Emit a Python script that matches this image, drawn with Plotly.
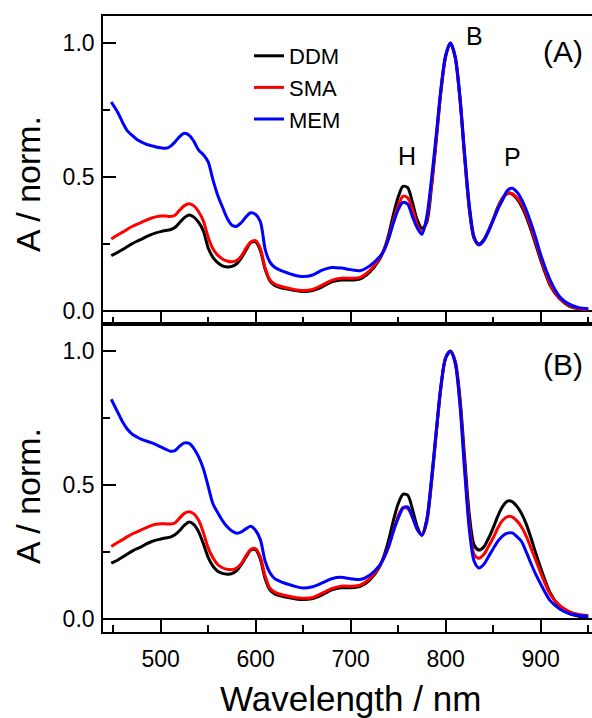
import plotly.graph_objects as go

WAVELENGTH = [448, 455, 460, 465, 470, 475, 480, 485, 490, 495,
              500, 505, 510, 515, 520, 525, 530, 535, 540, 545,
              550, 555, 560, 565, 570, 575, 580, 585, 590, 595,
              600, 605, 610, 615, 620, 625, 630, 640, 650, 660,
              670, 680, 690, 700, 710, 720, 730, 735, 740, 745,
              750, 755, 760, 765, 770, 775, 780, 785, 790, 795,
              800, 805, 810, 815, 820, 825, 830, 835, 840, 845,
              850, 855, 860, 865, 870, 875, 880, 885, 890, 895,
              900, 910, 920, 930, 940, 950]

# Panel (A)
DDM_A = [0.206, 0.219, 0.229, 0.240, 0.251, 0.260, 0.268, 0.277, 0.285, 0.291,
         0.296, 0.300, 0.303, 0.311, 0.330, 0.348, 0.358, 0.350, 0.330, 0.298,
         0.235, 0.200, 0.180, 0.168, 0.164, 0.166, 0.176, 0.198, 0.228, 0.255,
         0.258, 0.225, 0.155, 0.112, 0.095, 0.088, 0.083, 0.077, 0.072, 0.076,
         0.090, 0.108, 0.115, 0.115, 0.120, 0.145, 0.190, 0.228, 0.285, 0.360,
         0.425, 0.465, 0.460, 0.405, 0.340, 0.308, 0.330, 0.460, 0.635, 0.820,
         0.950, 1.000, 0.945, 0.790, 0.570, 0.375, 0.270, 0.250, 0.265, 0.300,
         0.342, 0.388, 0.422, 0.440, 0.436, 0.418, 0.390, 0.350, 0.300, 0.245,
         0.190, 0.095, 0.045, 0.018, 0.008, 0.005]
SMA_A = [0.268, 0.284, 0.294, 0.305, 0.315, 0.323, 0.331, 0.339, 0.346, 0.351,
         0.354, 0.354, 0.352, 0.357, 0.376, 0.393, 0.400, 0.392, 0.370, 0.335,
         0.275, 0.232, 0.208, 0.194, 0.186, 0.183, 0.188, 0.205, 0.235, 0.258,
         0.262, 0.232, 0.160, 0.116, 0.100, 0.093, 0.088, 0.080, 0.076, 0.080,
         0.096, 0.114, 0.122, 0.122, 0.125, 0.150, 0.195, 0.228, 0.275, 0.338,
         0.393, 0.428, 0.422, 0.380, 0.322, 0.293, 0.340, 0.470, 0.640, 0.822,
         0.952, 1.000, 0.948, 0.795, 0.575, 0.380, 0.270, 0.246, 0.262, 0.297,
         0.340, 0.384, 0.420, 0.438, 0.438, 0.422, 0.398, 0.360, 0.310, 0.255,
         0.200, 0.100, 0.047, 0.020, 0.009, 0.006]
MEM_A = [0.780, 0.740, 0.703, 0.672, 0.655, 0.640, 0.630, 0.622, 0.617, 0.612,
         0.609, 0.607, 0.614, 0.630, 0.651, 0.663, 0.656, 0.633, 0.600, 0.583,
         0.556, 0.490, 0.432, 0.388, 0.346, 0.320, 0.316, 0.330, 0.352, 0.366,
         0.360, 0.333, 0.230, 0.182, 0.163, 0.153, 0.146, 0.134, 0.128, 0.134,
         0.152, 0.162, 0.160, 0.154, 0.150, 0.168, 0.200, 0.225, 0.270, 0.328,
         0.378, 0.405, 0.398, 0.352, 0.310, 0.286, 0.350, 0.490, 0.655, 0.830,
         0.955, 1.000, 0.950, 0.800, 0.585, 0.390, 0.275, 0.247, 0.262, 0.296,
         0.338, 0.380, 0.415, 0.450, 0.458, 0.444, 0.415, 0.375, 0.325, 0.270,
         0.210, 0.115, 0.053, 0.025, 0.012, 0.008]

# Panel (B)
DDM_B = [0.208, 0.220, 0.231, 0.242, 0.253, 0.262, 0.270, 0.280, 0.288, 0.294,
         0.298, 0.302, 0.305, 0.314, 0.330, 0.350, 0.362, 0.352, 0.325, 0.280,
         0.230, 0.197, 0.178, 0.170, 0.167, 0.169, 0.180, 0.203, 0.232, 0.257,
         0.258, 0.222, 0.150, 0.108, 0.093, 0.087, 0.082, 0.076, 0.072, 0.076,
         0.090, 0.108, 0.116, 0.116, 0.121, 0.145, 0.192, 0.235, 0.295, 0.368,
         0.430, 0.465, 0.462, 0.410, 0.345, 0.312, 0.360, 0.505, 0.690, 0.865,
         0.975, 1.000, 0.962, 0.825, 0.600, 0.385, 0.275, 0.257, 0.268, 0.300,
         0.340, 0.385, 0.420, 0.440, 0.438, 0.420, 0.392, 0.352, 0.300, 0.243,
         0.190, 0.097, 0.046, 0.020, 0.010, 0.006]
SMA_B = [0.270, 0.286, 0.296, 0.307, 0.317, 0.325, 0.333, 0.341, 0.348, 0.353,
         0.355, 0.355, 0.354, 0.358, 0.377, 0.394, 0.400, 0.392, 0.368, 0.322,
         0.265, 0.228, 0.203, 0.191, 0.185, 0.184, 0.190, 0.207, 0.237, 0.260,
         0.262, 0.230, 0.160, 0.115, 0.100, 0.093, 0.088, 0.081, 0.077, 0.080,
         0.096, 0.113, 0.122, 0.122, 0.126, 0.150, 0.195, 0.228, 0.272, 0.328,
         0.385, 0.415, 0.412, 0.380, 0.335, 0.313, 0.368, 0.515, 0.695, 0.868,
         0.975, 0.999, 0.958, 0.810, 0.570, 0.350, 0.240, 0.226, 0.240, 0.270,
         0.303, 0.340, 0.368, 0.382, 0.381, 0.366, 0.342, 0.307, 0.262, 0.217,
         0.172, 0.092, 0.050, 0.027, 0.016, 0.012]
MEM_B = [0.820, 0.770, 0.735, 0.708, 0.690, 0.679, 0.670, 0.664, 0.658, 0.651,
         0.642, 0.634, 0.626, 0.628, 0.645, 0.657, 0.655, 0.636, 0.605, 0.560,
         0.495, 0.430, 0.397, 0.367, 0.344, 0.328, 0.320, 0.325, 0.337, 0.346,
         0.330, 0.295, 0.215, 0.172, 0.150, 0.141, 0.134, 0.123, 0.115, 0.120,
         0.134, 0.150, 0.155, 0.150, 0.147, 0.163, 0.198, 0.228, 0.270, 0.328,
         0.375, 0.413, 0.418, 0.380, 0.335, 0.313, 0.370, 0.520, 0.700, 0.870,
         0.975, 0.998, 0.955, 0.800, 0.550, 0.330, 0.215, 0.190, 0.203, 0.232,
         0.262, 0.290, 0.310, 0.320, 0.321, 0.307, 0.288, 0.248, 0.205, 0.165,
         0.130, 0.068, 0.037, 0.020, 0.013, 0.010]

SERIES_NAMES = ["DDM", "SMA", "MEM"]
SERIES_COLORS = ["#000000", "#ff0000", "#0000ff"]
PANEL_LABELS = ["(A)", "(B)"]
BAND_LABELS = ["H", "B", "P"]
X_TITLE = "Wavelength / nm"
Y_TITLE = "A / norm."

W, H = 592, 718
FONT = "Liberation Sans, Arial, sans-serif"


def py(px):
    return 1 - px / H


def pxx(px):
    return px / W


fig = go.Figure()
panels = [(DDM_A, SMA_A, MEM_A), (DDM_B, SMA_B, MEM_B)]
for i, vals in enumerate(panels):
    for name, color, ys in zip(SERIES_NAMES, SERIES_COLORS, vals):
        fig.add_trace(go.Scatter(
            x=WAVELENGTH, y=ys, name=name, mode="lines",
            line=dict(color=color, width=3, shape="spline", smoothing=0.8),
            xaxis="x" if i == 0 else "x2", yaxis="y" if i == 0 else "y2",
            showlegend=(i == 0),
        ))

XRANGE = [439.3, 954.0]
YRANGE = [-0.049, 1.101]
top_dom = [py(324), py(16)]
bot_dom = [py(632), py(324)]
xdom = [pxx(103), 1.0]

common_x = dict(
    range=XRANGE, domain=xdom, showline=True, linecolor="black", linewidth=1.6,
    mirror=True, ticks="inside", ticklen=13, tickwidth=1.6, tickcolor="black",
    tick0=500, dtick=100, showgrid=False, zeroline=False,
    minor=dict(ticks="inside", ticklen=7, tickwidth=1.6, tickcolor="black",
               tick0=450, dtick=50, showgrid=False),
    tickfont=dict(family=FONT, size=23, color="black"), automargin=False,
)
common_y = dict(
    range=YRANGE, showline=True, linecolor="black", linewidth=1.6,
    mirror=False, ticks="inside", ticklen=13, tickwidth=1.6, tickcolor="black",
    tickvals=[0, 0.5, 1.0], ticktext=["0.0", "0.5", "1.0"],
    showgrid=False, zeroline=True, zerolinecolor="black", zerolinewidth=1.6,
    minor=dict(ticks="inside", ticklen=7, tickwidth=1.6, tickcolor="black",
               tickvals=[0.25, 0.75], showgrid=False),
    tickfont=dict(family=FONT, size=23, color="black"), automargin=False,
    ticklabelstandoff=2,
)

fig.update_layout(
    width=W, height=H, margin=dict(l=0, r=0, t=0, b=0),
    paper_bgcolor="white", plot_bgcolor="white",
    xaxis=dict(common_x, anchor="y", showticklabels=False),
    yaxis=dict(common_y, domain=top_dom, anchor="x"),
    xaxis2=dict(common_x, anchor="y2", showticklabels=True, ticklabelstandoff=6),
    yaxis2=dict(common_y, domain=bot_dom, anchor="x2"),
    legend=dict(x=pxx(249), y=py(35), xanchor="left", yanchor="top",
                bgcolor="rgba(0,0,0,0)", borderwidth=0,
                font=dict(family=FONT, size=22, color="black"),
                itemwidth=30, tracegroupgap=0),
    showlegend=True,
)

ann = []
ann.append(dict(text=X_TITLE, x=pxx(350), y=py(698), xref="paper", yref="paper",
                showarrow=False, font=dict(family=FONT, size=35, color="black"),
                xanchor="center", yanchor="middle"))
for cy in (184, 496):
    ann.append(dict(text=Y_TITLE, x=pxx(28), y=py(cy), xref="paper", yref="paper",
                    showarrow=False, textangle=-90,
                    font=dict(family=FONT, size=34, color="black"),
                    xanchor="center", yanchor="middle"))
for lab, (cx, cy) in zip(PANEL_LABELS, [(563, 51), (563, 364)]):
    ann.append(dict(text=lab, x=pxx(cx), y=py(cy), xref="paper", yref="paper",
                    showarrow=False, font=dict(family=FONT, size=30, color="black"),
                    xanchor="center", yanchor="middle"))
for lab, (cx, cy) in zip(BAND_LABELS, [(407, 156), (474, 36), (512, 157)]):
    ann.append(dict(text=lab, x=pxx(cx), y=py(cy), xref="paper", yref="paper",
                    showarrow=False, font=dict(family=FONT, size=25, color="black"),
                    xanchor="center", yanchor="middle"))
fig.update_layout(annotations=ann)

fig.write_html("out.html")
